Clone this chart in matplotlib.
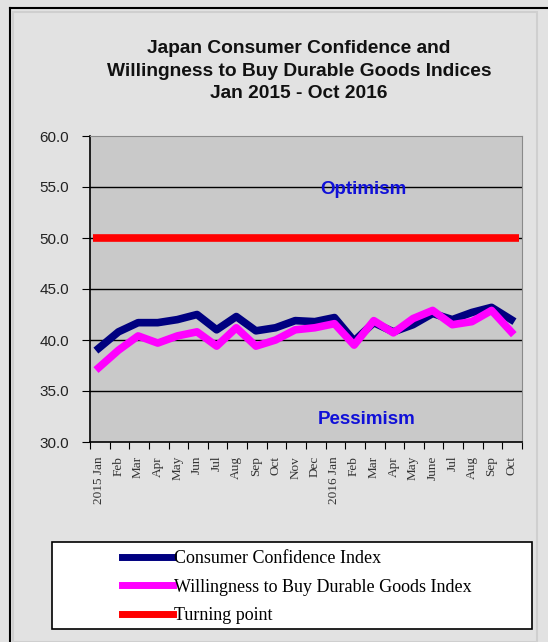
import matplotlib
matplotlib.use("Agg")
import matplotlib.pyplot as plt
from matplotlib.patches import Rectangle
from matplotlib.lines import Line2D
import numpy as np

months = ["2015 Jan", "Feb", "Mar", "Apr", "May", "Jun", "Jul", "Aug", "Sep", "Oct", "Nov", "Dec",
          "2016 Jan", "Feb", "Mar", "Apr", "May", "June", "Jul", "Aug", "Sep", "Oct"]
consumer_confidence = [39.2, 40.8, 41.7, 41.7, 42.0, 42.5, 41.0, 42.3, 40.9, 41.2, 41.9, 41.8,
                       42.2, 39.9, 41.7, 40.8, 41.5, 42.6, 42.0, 42.7, 43.2, 42.0]
willingness = [37.3, 39.0, 40.4, 39.7, 40.4, 40.8, 39.4, 41.2, 39.4, 40.0, 41.0, 41.2,
               41.6, 39.5, 41.9, 40.7, 42.1, 42.9, 41.5, 41.8, 42.9, 40.8]
turning_point = 50.0
y_ticks = [30.0, 35.0, 40.0, 45.0, 50.0, 55.0, 60.0]

W, H = 548, 642
fig = plt.figure(figsize=(W / 100, H / 100), dpi=100)
fig.patch.set_facecolor("#e2e2e2")

# outer frame
fig.add_artist(Line2D([10 / W, 10 / W], [0, 1 - 8 / H], transform=fig.transFigure, color="black", lw=1.5))
fig.add_artist(Line2D([10 / W, 1], [1 - 8 / H, 1 - 8 / H], transform=fig.transFigure, color="black", lw=1.5))
fig.add_artist(Rectangle((13 / W, 0), (537 - 13) / W, 1 - 12 / H, transform=fig.transFigure,
                         fill=False, edgecolor="#cfcfcf", lw=1.5))

ax = fig.add_axes([90 / W, 1 - 442 / H, 432 / W, 306 / H])
ax.set_facecolor("#c9c9c9")

n = len(months)
x = np.arange(n) + 0.45
for yv in y_ticks[1:-1]:
    ax.axhline(yv, color="black", lw=1.0, zorder=1)
ax.axhline(turning_point, xmin=0.006, xmax=0.994, color="#ff0000", lw=5.5, solid_capstyle="butt", zorder=3)
ax.plot(x, consumer_confidence, color="#000080", lw=5.5, zorder=4, solid_joinstyle="round")
ax.plot(x, willingness, color="#ff00ff", lw=5.5, zorder=5, solid_joinstyle="round")

ax.set_xlim(0, n)
ax.set_ylim(30, 60)
ax.set_yticks(y_ticks)
ax.set_yticklabels([f"{v:.1f}" for v in y_ticks], fontsize=11, family="Liberation Sans", color="#222222")
ax.set_xticks(np.arange(n + 1))
ax.set_xticklabels([])
ax.set_xticks(x, minor=True)
ax.set_xticklabels(months, minor=True, rotation=90, fontsize=9.5, family="Liberation Serif", color="#333333")
ax.tick_params(axis="x", which="minor", length=0, pad=10)
ax.tick_params(axis="x", which="major", length=5, direction="out", color="black")
ax.tick_params(axis="y", length=6, direction="out", color="black", pad=9)
for s in ["top", "right"]:
    ax.spines[s].set_color("#8a8a8a")
for s in ["left", "bottom"]:
    ax.spines[s].set_color("black")
    ax.spines[s].set_linewidth(1.2)

ax.text(0.632, 0.825, "Optimism", transform=ax.transAxes, ha="center", va="center",
        fontsize=13.5, fontweight="bold", color="#1010d8", family="Liberation Sans")
ax.text(0.640, 0.075, "Pessimism", transform=ax.transAxes, ha="center", va="center",
        fontsize=13.5, fontweight="bold", color="#1010d8", family="Liberation Sans")

fig.text(299 / W, 1 - 71 / H,
         "Japan Consumer Confidence and\nWillingness to Buy Durable Goods Indices\nJan 2015 - Oct 2016",
         ha="center", va="center", fontsize=13.8, fontweight="bold", family="Liberation Sans",
         linespacing=1.45, color="#111111")

# legend box
fig.add_artist(Rectangle((52 / W, 1 - 629 / H), 480 / W, 87 / H, transform=fig.transFigure,
                         facecolor="white", edgecolor="black", lw=1.2))
handles = [Line2D([], [], color="#000080", lw=5),
           Line2D([], [], color="#ff00ff", lw=5),
           Line2D([], [], color="#ff0000", lw=5)]
labels = ["Consumer Confidence Index", "Willingness to Buy Durable Goods Index", "Turning point"]
leg = fig.legend(handles, labels, loc="upper left", bbox_to_anchor=(108 / W, 1 - 536 / H),
                 frameon=False, prop={"family": "Liberation Serif", "size": 13},
                 handlelength=2.8, handletextpad=0.05, labelspacing=0.62, borderpad=0.3)

fig.savefig("out.png", dpi=100, facecolor=fig.get_facecolor())
